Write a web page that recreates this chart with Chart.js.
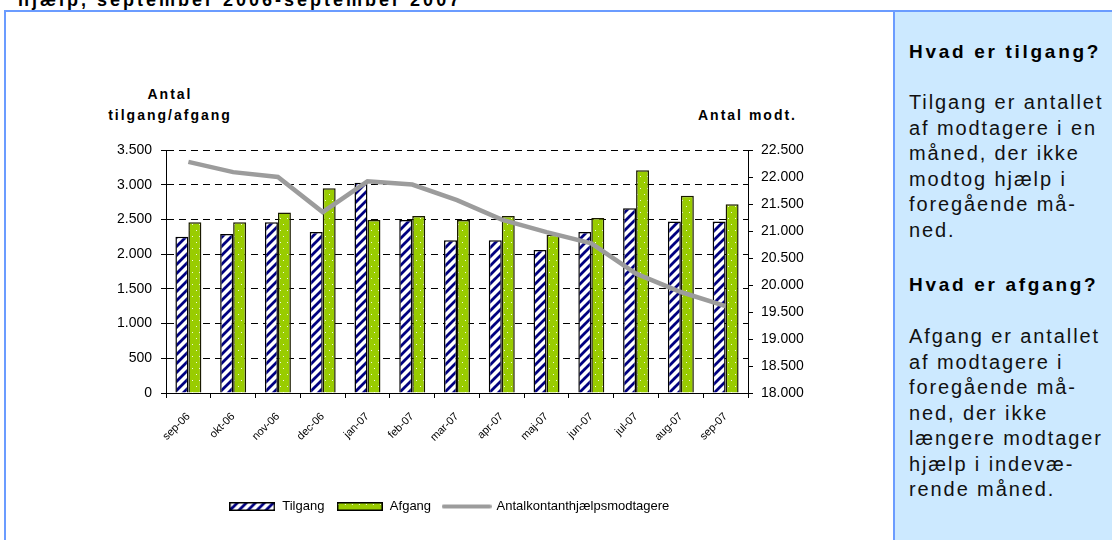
<!DOCTYPE html>
<html>
<head>
<meta charset="utf-8">
<script src="https://cdn.jsdelivr.net/npm/chart.js@4"></script>
<style>
  body { margin: 0; width: 1112px; height: 540px; overflow: hidden; background: #fff; font-family: Arial, "Liberation Sans", sans-serif; position: relative; }
  .title { position: absolute; left: 18px; top: -9px; font-size: 18px; line-height: 18px; font-weight: bold; letter-spacing: 3px; white-space: nowrap; }
  .frame { position: absolute; left: 4px; top: 10px; width: 1200px; height: 600px; border: 2px solid #6b9cff; }
  .panel { position: absolute; left: 893px; top: 12px; width: 240px; height: 600px; background: #cce9ff; border-left: 2px solid #6b9cff; }
  .panel p { position: absolute; left: 14px; margin: 0; font-size: 20px; line-height: 25.5px; letter-spacing: 1.9px; white-space: nowrap; color: #111; }
  .panel h4 { position: absolute; left: 14px; margin: 0; font-size: 19px; line-height: 22px; letter-spacing: 2.7px; white-space: nowrap; }
  .axt { position: absolute; font-size: 14px; font-weight: bold; letter-spacing: 2px; line-height: 21px; text-align: center; white-space: nowrap; }
  #wrap { position: absolute; left: 6px; top: 12px; width: 886px; height: 528px; }
</style>
</head>
<body>
<div class="title">hjælp, september 2006-september 2007</div>
<div class="frame"></div>
<div class="panel">
  <h4 style="top:29px">Hvad er tilgang?</h4>
  <p style="top:78px">Tilgang er antallet<br>af modtagere i en<br>måned, der ikke<br>modtog hjælp i<br>foregående må-<br>ned.</p>
  <h4 style="top:262px">Hvad er afgang?</h4>
  <p style="top:312px">Afgang er antallet<br>af modtagere i<br>foregående må-<br>ned, der ikke<br>længere modtager<br>hjælp i indevæ-<br>rende måned.</p>
</div>
<div class="axt" style="left:100px; top:84px; width:140px">Antal<br>tilgang/afgang</div>
<div class="axt" style="left:698px; top:105px">Antal modt.</div>
<div id="wrap"><canvas id="chart"></canvas></div>

<script>
const months = ['sep-06', 'okt-06', 'nov-06', 'dec-06', 'jan-07', 'feb-07', 'mar-07',
                'apr-07', 'maj-07', 'jun-07', 'jul-07', 'aug-07', 'sep-07'];
const tilgang = [2250, 2290, 2460, 2320, 3030, 2490, 2200, 2200, 2060, 2320, 2660, 2470, 2470];
const afgang = [2460, 2460, 2600, 2950, 2490, 2550, 2490, 2550, 2280, 2520, 3210, 2840, 2720];
const modtagere = [22280, 22090, 22000, 21350, 21920, 21860, 21570, 21210, 20980, 20770, 20210, 19870, 19610];

// fills for the bars
function stripes() {
    const c = document.createElement('canvas');
    c.width = 9; c.height = 9;
    const g = c.getContext('2d');
    g.fillStyle = '#fff';
    g.fillRect(0, 0, 9, 9);
    g.strokeStyle = '#000080';
    g.lineWidth = 2.8;
    g.beginPath();
    g.moveTo(-2, 11); g.lineTo(11, -2);
    g.moveTo(-6, 6); g.lineTo(6, -6);
    g.moveTo(3, 15); g.lineTo(15, 3);
    g.stroke();
    return g.createPattern(c, 'repeat');
}
function dots() {
    const c = document.createElement('canvas');
    c.width = 7; c.height = 12;
    const g = c.getContext('2d');
    g.fillStyle = '#99cc00';
    g.fillRect(0, 0, 7, 12);
    g.fillStyle = '#f4fbe0';
    g.fillRect(1, 2, 1, 1);
    g.fillRect(4, 8, 1, 1);
    return g.createPattern(c, 'repeat');
}
const stripeFill = stripes();
const dotFill = dots();

// legend symbols
function swatch(fill) {
    const c = document.createElement('canvas');
    c.width = 46; c.height = 9;
    const g = c.getContext('2d');
    g.fillStyle = fill;
    g.fillRect(0, 0, 46, 9);
    g.strokeStyle = '#000';
    g.lineWidth = 1.5;
    g.strokeRect(0.75, 0.75, 44.5, 7.5);
    return c;
}
function lineSwatch() {
    const c = document.createElement('canvas');
    c.width = 50; c.height = 6;
    const g = c.getContext('2d');
    g.strokeStyle = '#9c9c9c';
    g.lineWidth = 4;
    g.lineCap = 'round';
    g.beginPath();
    g.moveTo(2, 3); g.lineTo(48, 3);
    g.stroke();
    return c;
}
const legendIcons = [swatch(stripeFill), swatch(dotFill), lineSwatch()];

function dk(v) {
    return String(v).replace(/\B(?=(\d{3})+(?!\d))/g, '.');
}

Chart.defaults.font.family = 'Arial, "Liberation Sans", sans-serif';
Chart.defaults.color = '#000';

new Chart(document.getElementById('chart'), {
    type: 'bar',
    data: {
        labels: months,
        datasets: [
            {
                label: 'Tilgang',
                data: tilgang,
                backgroundColor: stripeFill,
                borderColor: '#000',
                borderWidth: 1.5,
                yAxisID: 'y',
                order: 1,
            },
            {
                label: 'Afgang',
                data: afgang,
                backgroundColor: dotFill,
                borderColor: '#1a1a00',
                borderWidth: 1.5,
                yAxisID: 'y',
                order: 1,
            },
            {
                type: 'line',
                label: 'Antalkontanthjælpsmodtagere',
                data: modtagere,
                borderColor: '#9c9c9c',
                borderWidth: 4.5,
                pointRadius: 0,
                tension: 0,
                yAxisID: 'y1',
                order: 0,
            },
        ],
    },
    options: {
        responsive: true,
        maintainAspectRatio: false,
        animation: false,
        categoryPercentage: 0.58,
        barPercentage: 1.0,
        layout: { padding: { top: 138, bottom: 17, left: 0, right: 0 } },
        plugins: {
            tooltip: { enabled: false },
            legend: {
                position: 'bottom',
                labels: {
                    font: { size: 13 },
                    padding: 12,
                    usePointStyle: true,
                    pointStyleWidth: 47,
                    boxHeight: 9,
                    generateLabels: (chart) => chart.data.datasets.map((ds, i) => ({
                        text: ds.label,
                        pointStyle: legendIcons[i],
                        fillStyle: 'transparent',
                        strokeStyle: 'transparent',
                        lineWidth: 0,
                        datasetIndex: i,
                        fontColor: '#000',
                    })),
                },
            },
        },
        scales: {
            x: {
                offset: true,
                grid: { offset: true, drawOnChartArea: false, tickLength: 5, color: '#000' },
                border: { color: '#000', width: 1 },
                ticks: { minRotation: 45, maxRotation: 45, font: { size: 11 }, padding: 12 },
                afterFit: (scale) => { scale.height = 95; },
            },
            y: {
                position: 'left',
                min: 0,
                max: 3500,
                ticks: { stepSize: 500, font: { size: 14 }, padding: 9, callback: (v) => dk(v) },
                grid: { color: '#000', tickLength: 5, tickBorderDash: [] },
                border: { color: '#000', width: 1, dash: [7, 5] },
                afterFit: (scale) => { scale.width = 160; },
            },
            y1: {
                position: 'right',
                min: 18000,
                max: 22500,
                ticks: { stepSize: 500, font: { size: 14 }, padding: 8, callback: (v) => dk(v) },
                grid: { drawOnChartArea: false, color: '#000', tickLength: 5 },
                border: { color: '#000', width: 1 },
                afterFit: (scale) => { scale.width = 144; },
            },
        },
    },
});
</script>
</body>
</html>
